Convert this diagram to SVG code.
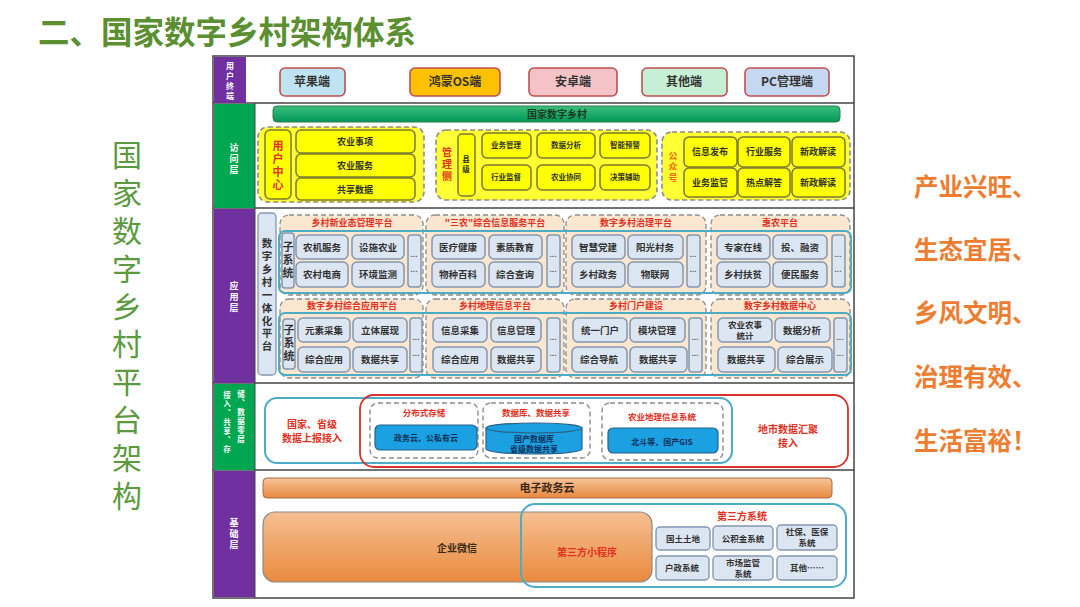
<svg xmlns="http://www.w3.org/2000/svg" width="1080" height="607" viewBox="0 0 1080 607">
<defs>
<linearGradient id="gbar" x1="0" y1="0" x2="0" y2="1"><stop offset="0" stop-color="#3cc07a"/><stop offset="1" stop-color="#00985a"/></linearGradient>
<linearGradient id="obar" x1="0" y1="0" x2="0" y2="1"><stop offset="0" stop-color="#f7c49a"/><stop offset="1" stop-color="#e8883e"/></linearGradient>
<linearGradient id="obig" x1="0" y1="0" x2="0" y2="1"><stop offset="0" stop-color="#f6bf92"/><stop offset="1" stop-color="#e98a3e"/></linearGradient>
</defs>
<style>
text{font-family:"Noto Sans CJK SC","Noto Sans",sans-serif;text-anchor:middle}
.v{writing-mode:vertical-rl}
.ut{fill:none;stroke:#c0504d;stroke-width:1.6}
.utt{font-size:12px;font-weight:bold;fill:#333}
.lab{font-size:9px;fill:#fff;font-weight:bold}
.yg{fill:#ffff33;stroke:#8c8c8c;stroke-width:1.6;stroke-dasharray:5 3}
.yb{fill:#ffff00;stroke:#7a7a30;stroke-width:1.5}
.yt{font-size:9px;fill:#333;font-weight:bold}
.yt2{font-size:7.5px;fill:#333;font-weight:bold}
.rt{fill:#e0301e;font-weight:bold}
.pf{fill:#fbe6cf;stroke:#8c8c8c;stroke-width:1.3;stroke-dasharray:5 3}
.teal{fill:none;stroke:#4bacc6;stroke-width:2}
.ab{fill:#dce6f2;stroke:#8497b0;stroke-width:1.5}
.at{font-size:9.5px;fill:#333;font-weight:bold}
.dots{font-size:7px;fill:#333;font-weight:bold}
.ht{font-size:9px;fill:#e0301e;font-weight:bold}
.vt{font-size:11px;fill:#333;font-weight:bold}
.dg{fill:none;stroke:#8c8c8c;stroke-width:1.4;stroke-dasharray:5 3}
.bb{fill:#1ba1e2;stroke:#2b5f86;stroke-width:1.2}
.bt{font-size:8px;fill:#10305a;font-weight:bold}
.sb{fill:#dce6f2;stroke:#8497b0;stroke-width:1.4}
.st{font-size:8.5px;fill:#333;font-weight:bold}
.big{font-size:30px;fill:#5b9a3e;letter-spacing:7.8px}
.rr{font-size:24.5px;fill:#ed7d31;font-weight:bold;text-anchor:start}
</style>
<rect width="1080" height="607" fill="#fff"/>
<text x="38" y="44" style="font-size:31.5px;font-weight:bold;fill:#5b8f32;text-anchor:start">二、国家数字乡村架构体系</text>
<g id="left-title">
<text class="big v" x="127" y="329">国家数字乡村平台架构</text>
</g>
<g id="right-slogan">
<text class="rr" x="914" y="196">产业兴旺、</text>
<text class="rr" x="914" y="259">生态宜居、</text>
<text class="rr" x="914" y="322">乡风文明、</text>
<text class="rr" x="914" y="386">治理有效、</text>
<text class="rr" x="914" y="450">生活富裕！</text>
</g>
<g id="frame">
<rect x="213" y="56" width="641" height="542" fill="#fff" stroke="#444" stroke-width="1.5"/>
<line x1="213" y1="103" x2="854" y2="103" stroke="#444" stroke-width="1.5"/>
<line x1="213" y1="208" x2="854" y2="208" stroke="#444" stroke-width="1.5"/>
<line x1="213" y1="383" x2="854" y2="383" stroke="#444" stroke-width="1.5"/>
<line x1="213" y1="470" x2="854" y2="470" stroke="#444" stroke-width="1.5"/>
<rect x="214" y="57" width="32" height="46" fill="#7030a0"/>
<rect x="214" y="104" width="41" height="104" fill="#00a650"/>
<rect x="214" y="209" width="41" height="174" fill="#7030a0"/>
<rect x="214" y="384" width="41" height="86" fill="#00a650"/>
<rect x="214" y="471" width="41" height="126" fill="#7030a0"/>
<line x1="255" y1="103" x2="255" y2="598" stroke="#444" stroke-width="1"/>
<text class="lab v" x="230" y="82" style="font-size:8px;letter-spacing:2px">用户终端</text>
<text class="lab v" x="234" y="160" style="letter-spacing:2px">访问层</text>
<text class="lab v" x="234" y="298" style="letter-spacing:2px">应用层</text>
<text class="lab v" x="227" y="423" style="font-size:7.5px;letter-spacing:1.5px">接入、共享、存</text>
<text class="lab v" x="241" y="417" style="font-size:7.5px;letter-spacing:1.5px">储、数据零层</text>
<text class="lab v" x="234" y="535" style="letter-spacing:2px">基础层</text>
</g>
<g id="user-terminals">
<rect class="ut" x="280" y="68" width="65" height="28" rx="5" style="fill:#bfe3f0"/><text class="utt" x="312" y="86">苹果端</text>
<rect class="ut" x="410" y="68" width="90" height="28" rx="5" style="fill:#ffc000"/><text class="utt" x="455" y="86">鸿蒙OS端</text>
<rect class="ut" x="529" y="68" width="88" height="28" rx="5" style="fill:#f5c2c8"/><text class="utt" x="573" y="86">安卓端</text>
<rect class="ut" x="642" y="68" width="85" height="28" rx="5" style="fill:#c6efd6"/><text class="utt" x="684" y="86">其他端</text>
<rect class="ut" x="745" y="68" width="84" height="28" rx="5" style="fill:#c6d7f1"/><text class="utt" x="787" y="86">PC管理端</text>
</g>
<g id="access-layer">
<rect x="273" y="106" width="567" height="16" rx="4" fill="url(#gbar)" stroke="#2e7d4f" stroke-width="1"/>
<text x="557" y="118" style="font-size:10px;font-weight:bold;fill:#1e3a20">国家数字乡村</text>
<g id="user-center">
<rect class="yg" x="258" y="127" width="166" height="75" rx="10"/>
<rect class="yb" x="265" y="130" width="26" height="69" rx="5"/>
<text class="rt v" x="278" y="166" style="font-size:11px;letter-spacing:2px">用户中心</text>
<rect class="yb" x="296" y="130" width="119" height="23" rx="5"/><text class="yt" x="355" y="145">农业事项</text>
<rect class="yb" x="296" y="154" width="119" height="23" rx="5"/><text class="yt" x="355" y="169">农业服务</text>
<rect class="yb" x="296" y="178" width="119" height="22" rx="5"/><text class="yt" x="355" y="193">共享数据</text>
</g>
<g id="management">
<rect class="yg" x="436" y="130" width="221" height="70" rx="10"/>
<text class="rt v" x="447" y="165" style="font-size:10px;letter-spacing:2px">管理侧</text>
<rect class="yb" x="458" y="134" width="17" height="62" rx="4"/>
<text class="yt2 v" x="466" y="165" style="letter-spacing:2px">县级</text>
<rect class="yb" x="482" y="133" width="49" height="25" rx="5"/><text class="yt2" x="506" y="148">业务管理</text>
<rect class="yb" x="537" y="133" width="58" height="25" rx="5"/><text class="yt2" x="566" y="148">数据分析</text>
<rect class="yb" x="600" y="133" width="50" height="25" rx="5"/><text class="yt2" x="625" y="148">智能预警</text>
<rect class="yb" x="482" y="165" width="49" height="25" rx="5"/><text class="yt2" x="506" y="180">行业监督</text>
<rect class="yb" x="537" y="165" width="58" height="25" rx="5"/><text class="yt2" x="566" y="180">农业协同</text>
<rect class="yb" x="600" y="165" width="50" height="25" rx="5"/><text class="yt2" x="625" y="180">决策辅助</text>
</g>
<g id="public-account">
<rect class="yg" x="662" y="132" width="188" height="68" rx="10"/>
<text class="rt v" x="673" y="168" style="font-size:9px;fill:#ff6600;letter-spacing:2px">公众号</text>
<rect class="yb" x="684" y="137" width="53" height="30" rx="5"/><text class="yt" x="710" y="155">信息发布</text>
<rect class="yb" x="738" y="137" width="52" height="30" rx="5"/><text class="yt" x="764" y="155">行业服务</text>
<rect class="yb" x="792" y="137" width="53" height="30" rx="5"/><text class="yt" x="818" y="155">新政解读</text>
<rect class="yb" x="684" y="168" width="53" height="29" rx="5"/><text class="yt" x="710" y="186">业务监管</text>
<rect class="yb" x="738" y="168" width="52" height="29" rx="5"/><text class="yt" x="764" y="186">热点解答</text>
<rect class="yb" x="792" y="168" width="53" height="29" rx="5"/><text class="yt" x="818" y="186">新政解读</text>
</g>
</g>
<g id="application-layer">
<rect x="258" y="213" width="18" height="162" rx="4" fill="#dce6f2" stroke="#8497b0" stroke-width="1.3"/>
<text class="vt v" x="267" y="296" style="font-size:10.5px;letter-spacing:2.4px">数字乡村一体化平台</text>
<g id="row1">
<rect class="pf" x="280" y="215" width="143" height="80" rx="9"/>
<rect class="pf" x="426" y="215" width="138" height="80" rx="9"/>
<rect class="pf" x="566" y="215" width="140" height="80" rx="9"/>
<rect class="pf" x="711" y="215" width="139" height="80" rx="9"/>
<rect class="teal" x="279" y="231" width="572" height="62" rx="6"/>
<text class="ht" x="352" y="226">乡村新业态管理平台</text>
<text class="ht" x="495" y="226">"三农"综合信息服务平台</text>
<text class="ht" x="636" y="226">数字乡村治理平台</text>
<text class="ht" x="780" y="226">惠农平台</text>
<rect class="ab" x="282" y="233" width="12" height="55" rx="3"/>
<text class="vt v" x="288" y="261" style="letter-spacing:2px">子系统</text>
<rect class="ab" x="296" y="235" width="52" height="24" rx="5"/><text class="at" x="322" y="251">农机服务</text>
<rect class="ab" x="352" y="235" width="52" height="24" rx="5"/><text class="at" x="378" y="251">设施农业</text>
<rect class="ab" x="296" y="262" width="52" height="25" rx="5"/><text class="at" x="322" y="278">农村电商</text>
<rect class="ab" x="352" y="262" width="52" height="25" rx="5"/><text class="at" x="378" y="278">环境监测</text>
<rect class="ab" x="408" y="235" width="13" height="52" rx="3"/><text class="dots" x="414" y="257">...</text><text class="dots" x="414" y="272">...</text>
<rect class="ab" x="432" y="235" width="53" height="24" rx="5"/><text class="at" x="458" y="251">医疗健康</text>
<rect class="ab" x="489" y="235" width="53" height="24" rx="5"/><text class="at" x="515" y="251">素质教育</text>
<rect class="ab" x="432" y="262" width="53" height="25" rx="5"/><text class="at" x="458" y="278">物种百科</text>
<rect class="ab" x="489" y="262" width="53" height="25" rx="5"/><text class="at" x="515" y="278">综合查询</text>
<rect class="ab" x="547" y="235" width="13" height="52" rx="3"/><text class="dots" x="553" y="257">...</text><text class="dots" x="553" y="272">...</text>
<rect class="ab" x="572" y="235" width="53" height="24" rx="5"/><text class="at" x="598" y="251">智慧党建</text>
<rect class="ab" x="628" y="235" width="55" height="24" rx="5"/><text class="at" x="655" y="251">阳光村务</text>
<rect class="ab" x="572" y="262" width="53" height="25" rx="5"/><text class="at" x="598" y="278">乡村政务</text>
<rect class="ab" x="628" y="262" width="55" height="25" rx="5"/><text class="at" x="655" y="278">物联网</text>
<rect class="ab" x="687" y="235" width="13" height="52" rx="3"/><text class="dots" x="693" y="257">...</text><text class="dots" x="693" y="272">...</text>
<rect class="ab" x="717" y="235" width="53" height="24" rx="5"/><text class="at" x="743" y="251">专家在线</text>
<rect class="ab" x="773" y="235" width="54" height="24" rx="5"/><text class="at" x="800" y="251">投、融资</text>
<rect class="ab" x="717" y="262" width="53" height="25" rx="5"/><text class="at" x="743" y="278">乡村扶贫</text>
<rect class="ab" x="773" y="262" width="54" height="25" rx="5"/><text class="at" x="800" y="278">便民服务</text>
<rect class="ab" x="832" y="235" width="13" height="52" rx="3"/><text class="dots" x="838" y="257">...</text><text class="dots" x="838" y="272">...</text>
</g>
<g id="row2">
<rect class="pf" x="280" y="299" width="143" height="79" rx="9"/>
<rect class="pf" x="426" y="299" width="138" height="79" rx="9"/>
<rect class="pf" x="566" y="299" width="140" height="79" rx="9"/>
<rect class="pf" x="711" y="299" width="139" height="79" rx="9"/>
<rect class="teal" x="279" y="313" width="572" height="62" rx="6"/>
<text class="ht" x="352" y="309">数字乡村综合应用平台</text>
<text class="ht" x="495" y="309">乡村地理信息平台</text>
<text class="ht" x="636" y="309">乡村门户建设</text>
<text class="ht" x="780" y="309">数字乡村数据中心</text>
<rect class="ab" x="283" y="319" width="12" height="50" rx="3"/>
<text class="vt v" x="289" y="344" style="letter-spacing:2px">子系统</text>
<rect class="ab" x="298" y="318" width="52" height="24" rx="5"/><text class="at" x="324" y="334">元素采集</text>
<rect class="ab" x="353" y="318" width="54" height="24" rx="5"/><text class="at" x="380" y="334">立体展现</text>
<rect class="ab" x="298" y="347" width="52" height="25" rx="5"/><text class="at" x="324" y="363">综合应用</text>
<rect class="ab" x="353" y="347" width="54" height="25" rx="5"/><text class="at" x="380" y="363">数据共享</text>
<rect class="ab" x="410" y="318" width="12" height="54" rx="3"/><text class="dots" x="416" y="340">...</text><text class="dots" x="416" y="356">...</text>
<rect class="ab" x="433" y="318" width="54" height="24" rx="5"/><text class="at" x="460" y="334">信息采集</text>
<rect class="ab" x="491" y="318" width="50" height="24" rx="5"/><text class="at" x="516" y="334">信息管理</text>
<rect class="ab" x="433" y="347" width="54" height="25" rx="5"/><text class="at" x="460" y="363">综合应用</text>
<rect class="ab" x="491" y="347" width="50" height="25" rx="5"/><text class="at" x="516" y="363">数据共享</text>
<rect class="ab" x="547" y="318" width="13" height="54" rx="3"/><text class="dots" x="553" y="340">...</text><text class="dots" x="553" y="356">...</text>
<rect class="ab" x="573" y="318" width="54" height="24" rx="5"/><text class="at" x="600" y="334">统一门户</text>
<rect class="ab" x="630" y="318" width="55" height="24" rx="5"/><text class="at" x="657" y="334">模块管理</text>
<rect class="ab" x="572" y="347" width="55" height="25" rx="5"/><text class="at" x="599" y="363">综合导航</text>
<rect class="ab" x="630" y="347" width="57" height="25" rx="5"/><text class="at" x="658" y="363">数据共享</text>
<rect class="ab" x="689" y="318" width="13" height="54" rx="3"/><text class="dots" x="695" y="340">...</text><text class="dots" x="695" y="356">...</text>
<rect class="ab" x="718" y="318" width="54" height="24" rx="5"/><text class="at" x="745" y="328" style="font-size:8.5px">农业农事</text><text class="at" x="745" y="339" style="font-size:8.5px">统计</text>
<rect class="ab" x="775" y="318" width="55" height="24" rx="5"/><text class="at" x="802" y="334">数据分析</text>
<rect class="ab" x="718" y="347" width="57" height="25" rx="5"/><text class="at" x="746" y="363">数据共享</text>
<rect class="ab" x="778" y="347" width="54" height="25" rx="5"/><text class="at" x="805" y="363">综合展示</text>
<rect class="ab" x="834" y="318" width="13" height="54" rx="3"/><text class="dots" x="840" y="340">...</text><text class="dots" x="840" y="356">...</text>
</g>
</g>
<g id="data-layer">
<rect x="265" y="398" width="467" height="65" rx="12" fill="none" stroke="#4bacc6" stroke-width="2"/>
<rect x="360" y="395" width="488" height="72" rx="14" fill="none" stroke="#d9342b" stroke-width="1.8"/>
<text class="rt" style="font-size:10px"><tspan x="312" y="428">国家、省级</tspan><tspan x="312" y="442">数据上报接入</tspan></text>
<rect class="dg" x="370" y="403" width="108" height="55" rx="8"/>
<text class="rt" x="424" y="416" style="font-size:8.5px">分布式存储</text>
<rect class="bb" x="375" y="425" width="102" height="25" rx="5"/><text class="bt" x="426" y="441">政务云、公私有云</text>
<rect class="dg" x="483" y="403" width="107" height="55" rx="8"/>
<text class="rt" x="536" y="416" style="font-size:8.5px">数据库、数据共享</text>
<path d="M486 428 L486 449 A48 5 0 0 0 582 449 L582 428 Z" class="bb"/>
<ellipse cx="534" cy="428" rx="48" ry="5" class="bb"/>
<text class="bt" x="534" y="442">国产数据库</text><text class="bt" x="534" y="452">省级数据共享</text>
<rect class="dg" x="602" y="403" width="121" height="57" rx="8"/>
<text class="rt" x="662" y="420" style="font-size:8.5px">农业地理信息系统</text>
<rect class="bb" x="608" y="428" width="110" height="25" rx="5"/><text class="bt" x="662" y="445">北斗等、国产GIS</text>
<text class="rt" style="font-size:10px"><tspan x="788" y="433">地市数据汇聚</tspan><tspan x="788" y="447">接入</tspan></text>
</g>
<g id="base-layer">
<rect x="263" y="478" width="569" height="20" rx="4" fill="url(#obar)" stroke="#a0704a" stroke-width="1"/>
<text x="547" y="492" style="font-size:11px;font-weight:bold;fill:#3a2a1a">电子政务云</text>
<rect x="263" y="512" width="389" height="70" rx="12" fill="url(#obig)" stroke="#8a8a8a" stroke-width="1.2"/>
<text x="457" y="552" style="font-size:10px;font-weight:bold;fill:#3a2a1a">企业微信</text>
<rect x="521" y="504" width="325" height="83" rx="14" fill="none" stroke="#4bacc6" stroke-width="2"/>
<text class="rt" x="587" y="556" style="font-size:10px">第三方小程序</text>
<text class="rt" x="742" y="520" style="font-size:10px">第三方系统</text>
<rect class="sb" x="656" y="527" width="54" height="23" rx="4"/><text class="st" x="683" y="542">国土土地</text>
<rect class="sb" x="713" y="526" width="60" height="24" rx="4"/><text class="st" x="743" y="542">公积金系统</text>
<rect class="sb" x="777" y="525" width="60" height="25" rx="4"/><text class="st" x="807" y="535">社保、医保</text><text class="st" x="807" y="546">系统</text>
<rect class="sb" x="656" y="556" width="53" height="24" rx="4"/><text class="st" x="682" y="571">户政系统</text>
<rect class="sb" x="713" y="556" width="60" height="24" rx="4"/><text class="st" x="743" y="566">市场监管</text><text class="st" x="743" y="577">系统</text>
<rect class="sb" x="777" y="556" width="60" height="24" rx="4"/><text class="st" x="807" y="571">其他……</text>
</g>
</svg>
